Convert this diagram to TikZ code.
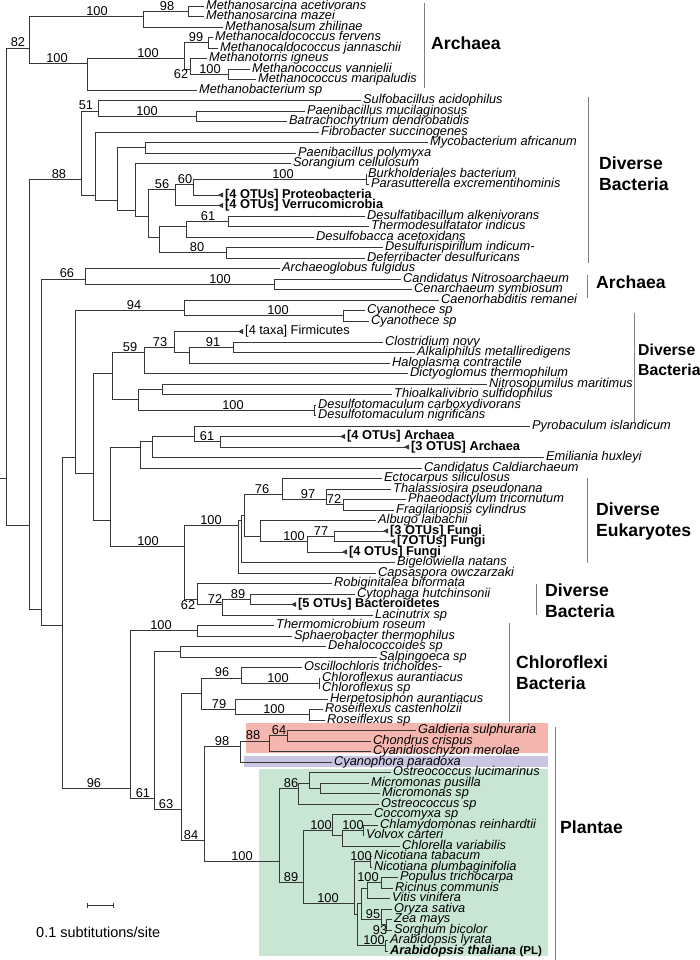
\documentclass[tikz,border=0pt]{standalone}
\usepackage{fontspec}
\setmainfont{Liberation Sans}
\usetikzlibrary{arrows.meta,positioning,calc}

\definecolor{rhodo}{RGB}{245,182,176}
\definecolor{glauco}{RGB}{201,197,226}
\definecolor{viridi}{RGB}{201,230,212}
\definecolor{treeline}{RGB}{55,55,55}

\newcommand{\leaffont}{\fontsize{12.8}{13}\selectfont\itshape}
\newcommand{\otufont}{\fontsize{12.8}{13}\selectfont\bfseries}
\newcommand{\numfont}{\fontsize{12.8}{13}\selectfont}
\newcommand{\grpfont}{\fontsize{17.6}{21}\selectfont\bfseries}
% internal node: name, x, first leaf, last leaf
\newcommand{\clade}[4]{\coordinate (#1) at (#2,{(#3+#4)/2});}

\begin{document}
\begin{tikzpicture}[x=1pt,y=-10.5pt,
  br/.style={draw=treeline,line width=0.8pt},
  otuarr/.style={-{Triangle[reversed,length=5pt,width=5pt]}},
  lf/.style={anchor=west,inner xsep=2pt,inner ysep=0pt,text height=8.5pt,text depth=2pt,font=\leaffont},
  otu/.style={lf,font=\otufont},
  bs/.style={anchor=south,inner sep=0.8pt,font=\numfont},
  bsb/.style={anchor=north,inner sep=0.8pt,font=\numfont},
  grp/.style={anchor=west,align=left,inner sep=0pt,font=\grpfont},
  gl/.style={draw=black!50,line width=0.8pt}]
\useasboundingbox (0,0.4286) rectangle (700,91.857);

% coloured boxes
\fill[rhodo] (246,69.3) rectangle (548,72.1);
\fill[glauco] (244,72.43) rectangle (548,73.5);
\fill[viridi] (259,73.67) rectangle (548,91.5);

% leaves
\node[lf] (aceti) at (204,1) {Methanosarcina acetivorans};
\node[lf] (mazei) at (204,2) {Methanosarcina mazei};
\node[lf] (zhili) at (223,3) {Methanosalsum zhilinae};
\node[lf] (ferv) at (213,4) {Methanocaldococcus fervens};
\node[lf] (jann) at (218,5) {Methanocaldococcus jannaschii};
\node[lf] (igne) at (207,6) {Methanotorris igneus};
\node[lf] (vann) at (250,7) {Methanococcus vannielii};
\node[lf] (mari) at (256,8) {Methanococcus maripaludis};
\node[lf] (mbac) at (197,9) {Methanobacterium sp};
\node[lf] (sulf) at (361,10) {Sulfobacillus acidophilus};
\node[lf] (pmuc) at (305,11) {Paenibacillus mucilaginosus};
\node[lf] (batr) at (287,12) {Batrachochytrium dendrobatidis};
\node[lf] (fibr) at (319,13) {Fibrobacter succinogenes};
\node[lf] (myco) at (428,14) {Mycobacterium africanum};
\node[lf] (ppol) at (296,15) {Paenibacillus polymyxa};
\node[lf] (sora) at (291,16) {Sorangium cellulosum};
\node[lf] (burk) at (366,17) {Burkholderiales bacterium};
\node[lf] (para) at (369,18) {Parasutterella excrementihominis};
\node[otu] (prot) at (223,19) {[4 OTUs] Proteobacteria};
\node[otu] (verr) at (223,20) {[4 OTUs] Verrucomicrobia};
\node[lf] (dalk) at (365,21) {Desulfatibacillum alkenivorans};
\node[lf] (tind) at (369,22) {Thermodesulfatator indicus};
\node[lf] (dace) at (314,23) {Desulfobacca acetoxidans};
\node[lf] (dind) at (383,24) {Desulfurispirillum indicum-};
\node[lf] (defe) at (365,25) {Deferribacter desulfuricans};
\node[lf] (afu) at (280,26) {Archaeoglobus fulgidus};
\node[lf] (cnit) at (401,27) {Candidatus Nitrosoarchaeum};
\node[lf] (csym) at (412,28) {Cenarchaeum symbiosum};
\node[lf] (crem) at (439,29) {Caenorhabditis remanei};
\node[lf] (cya1) at (365,30) {Cyanothece sp};
\node[lf] (cya2) at (369,31) {Cyanothece sp};
\node[lf,font=\numfont] (firm) at (243,32) {[4 taxa] Firmicutes};
\node[lf] (clos) at (383,33) {Clostridium novy};
\node[lf] (alka) at (415,34) {Alkaliphilus metalliredigens};
\node[lf] (halo) at (390,35) {Haloplasma contractile};
\node[lf] (dict) at (408,36) {Dictyoglomus thermophilum};
\node[lf] (nmar) at (487,37) {Nitrosopumilus maritimus};
\node[lf] (thio) at (392,38) {Thioalkalivibrio sulfidophilus};
\node[lf] (dcar) at (316,39) {Desulfotomaculum carboxydivorans};
\node[lf] (dnig) at (316,40) {Desulfotomaculum nigrificans};
\node[lf] (pyro) at (530,41) {Pyrobaculum islandicum};
\node[otu] (arc4) at (345,42) {[4 OTUs] Archaea};
\node[otu] (arc3) at (409,43) {[3 OTUS] Archaea};
\node[lf] (emil) at (544,44) {Emiliania huxleyi};
\node[lf] (cald) at (422,45) {Candidatus Caldiarchaeum};
\node[lf] (ecto) at (382,46) {Ectocarpus siliculosus};
\node[lf] (thal) at (391,47) {Thalassiosira pseudonana};
\node[lf] (phae) at (406,48) {Phaeodactylum tricornutum};
\node[lf] (frag) at (394,49) {Fragilariopsis cylindrus};
\node[lf] (albu) at (376,50) {Albugo laibachii};
\node[otu] (fun3) at (388,51) {[3 OTUs] Fungi};
\node[otu] (fun7) at (395,52) {[7OTUs] Fungi};
\node[otu] (fun4) at (347,53) {[4 OTUs] Fungi};
\node[lf] (bige) at (395,54) {Bigelowiella natans};
\node[lf] (caps) at (376,55) {Capsaspora owczarzaki};
\node[lf] (robi) at (332,56) {Robiginitalea biformata};
\node[lf] (cyto) at (355,57) {Cytophaga hutchinsonii};
\node[otu] (bact) at (296,58) {[5 OTUs] Bacteroidetes};
\node[lf] (laci) at (373,59) {Lacinutrix sp};
\node[lf] (tros) at (274,60) {Thermomicrobium roseum};
\node[lf] (sthe) at (292,61) {Sphaerobacter thermophilus};
\node[lf] (deha) at (326,62) {Dehalococcoides sp};
\node[lf] (salp) at (377,63) {Salpingoeca sp};
\node[lf] (osci) at (302,64) {Oscillochloris trichoides-};
\node[lf] (caur) at (320,65) {Chloroflexus aurantiacus};
\node[lf] (cfsp) at (320,66) {Chloroflexus sp};
\node[lf] (herp) at (328,67) {Herpetosiphon aurantiacus};
\node[lf] (rcas) at (323,68) {Roseiflexus castenholzii};
\node[lf] (rfsp) at (325,69) {Roseiflexus sp};
\node[lf] (gald) at (416,70) {Galdieria sulphuraria};
\node[lf] (chon) at (371,71) {Chondrus crispus};
\node[lf] (cyme) at (371,72) {Cyanidioschyzon merolae};
\node[lf] (cpar) at (332,73) {Cyanophora paradoxa};
\node[lf] (oluc) at (391,74) {Ostreococcus lucimarinus};
\node[lf] (mpus) at (369,75) {Micromonas pusilla};
\node[lf] (mosp) at (380,76) {Micromonas sp};
\node[lf] (ossp) at (379,77) {Ostreococcus sp};
\node[lf] (cocc) at (372,78) {Coccomyxa sp};
\node[lf] (chla) at (378,79) {Chlamydomonas reinhardtii};
\node[lf] (volv) at (364,80) {Volvox carteri};
\node[lf] (chlo) at (400,81) {Chlorella variabilis};
\node[lf] (ntab) at (372,82) {Nicotiana tabacum};
\node[lf] (nplu) at (372,83) {Nicotiana plumbaginifolia};
\node[lf] (popu) at (398,84) {Populus trichocarpa};
\node[lf] (rici) at (393,85) {Ricinus communis};
\node[lf] (viti) at (390,86) {Vitis vinifera};
\node[lf] (oryz) at (392,87) {Oryza sativa};
\node[lf] (zeam) at (392,88) {Zea mays};
\node[lf] (sorg) at (392,89) {Sorghum bicolor};
\node[lf] (alyr) at (388,90) {Arabidopsis lyrata};
\node[lf,font=\otufont] (atha) at (388,91) {\itshape Arabidopsis thaliana \upshape\fontsize{11.5}{12}\selectfont(PL)};

% internal nodes
\clade{root}{6.7}{1}{91}
\clade{n82}{29}{1}{9}
\clade{n100a}{143.5}{1}{3}
\clade{n98}{188}{1}{2}
\clade{n87}{87}{4}{9}
\clade{n184}{184}{4}{8}
\clade{n99}{208.5}{4}{5}
\clade{n62}{190.5}{6}{8}
\clade{n100b}{228}{7}{8}
\clade{nB}{29}{10}{91}
\clade{n88}{81}{10}{25}
\clade{n51}{98}{10}{12}
\clade{n100c}{196}{11}{12}
\clade{n95}{95}{13}{25}
\clade{n116}{117}{14}{25}
\clade{n146}{145}{14}{15}
\clade{n135}{135}{16}{25}
\clade{n148}{148}{17}{25}
\clade{n56}{175}{17}{20}
\clade{n60}{193}{17}{19}
\clade{n100d}{366}{17}{18}
\clade{n159}{159}{21}{25}
\clade{n186}{186}{21}{23}
\clade{n61}{228}{21}{22}
\clade{n80}{226}{24}{25}
\clade{nC}{41}{26}{91}
\clade{n66}{85}{26}{28}
\clade{n100e}{274}{27}{28}
\clade{nD}{62}{29}{91}
\clade{n75}{75}{29}{59}
\clade{n94}{184}{29}{31}
\clade{n100f}{343}{30}{31}
\clade{nE}{93}{32}{59}
\clade{n112}{112}{32}{40}
\clade{n59}{144}{32}{36}
\clade{n73}{174}{32}{35}
\clade{n189}{189}{33}{35}
\clade{n91}{233}{33}{34}
\clade{n138}{138}{37}{40}
\clade{n162}{162}{37}{38}
\clade{n100g}{314}{39}{40}
\clade{n110}{110}{41}{59}
\clade{n140}{140}{41}{45}
\clade{n152}{152}{41}{44}
\clade{n194}{194}{41}{43}
\clade{n61b}{220.6}{42}{43}
\clade{n184b}{184}{46}{59}
\clade{n238}{238}{46}{55}
\clade{n241}{241}{46}{54}
\clade{n244}{244}{46}{53}
\clade{n76}{282.5}{46}{49}
\clade{n97}{326.5}{47}{49}
\clade{n72}{343}{48}{49}
\clade{n260}{260}{50}{53}
\clade{n307}{307}{51}{53}
\clade{n77}{334}{51}{52}
\clade{n62c}{197}{56}{59}
\clade{n72b}{222}{57}{59}
\clade{n89}{250}{57}{58}
\clade{n96}{130}{60}{91}
\clade{n100h}{197}{60}{61}
\clade{n61c}{154}{62}{91}
\clade{n180}{180}{62}{63}
\clade{n63}{181}{64}{91}
\clade{n201}{201}{64}{69}
\clade{n96b}{241}{64}{66}
\clade{n100i}{319}{65}{66}
\clade{n79}{235}{67}{69}
\clade{n100j}{309}{68}{69}
\clade{n84}{204}{70}{91}
\clade{n98b}{240}{70}{73}
\clade{n88b}{269}{70}{72}
\clade{n64}{287}{70}{71}
\clade{nPL}{279}{74}{91}
\clade{n86}{298}{74}{77}
\clade{n309}{309}{74}{76}
\clade{n320}{320.6}{75}{76}
\clade{n89b}{303}{78}{91}
\clade{n332}{332}{78}{81}
\clade{n342}{342}{79}{81}
\clade{n100m}{363}{79}{80}
\clade{n354}{354}{82}{91}
\clade{n100n}{370}{82}{83}
\clade{n357}{357}{84}{91}
\clade{n362}{361}{84}{89}
\clade{n367}{367}{84}{86}
\clade{n100o}{381}{84}{85}
\clade{n95b}{381}{87}{89}
\clade{n93}{386}{88}{89}
\clade{n100p}{385}{90}{91}
\coordinate (rootin) at (0,46);

% branches
\draw[br] (rootin) -- (root);
\draw[br] (root) |- (n82) (root) |- (nB);
\draw[br] (n82) |- (n100a) (n82) |- (n87);
\draw[br] (n100a) |- (n98) (n100a) |- (zhili);
\draw[br] (n98) |- (aceti) (n98) |- (mazei);
\draw[br] (n87) |- (n184) (n87) |- (mbac);
\draw[br] (n184) |- (n99) (n184) |- (n62);
\draw[br] (n99) |- (ferv) (n99) |- (jann);
\draw[br] (n62) |- (igne) (n62) |- (n100b);
\draw[br] (n100b) |- (vann) (n100b) |- (mari);
\draw[br] (nB) |- (n88) (nB) |- (nC);
\draw[br] (n88) |- (n51) (n88) |- (n95);
\draw[br] (n51) |- (sulf) (n51) |- (n100c);
\draw[br] (n100c) |- (pmuc) (n100c) |- (batr);
\draw[br] (n95) |- (fibr) (n95) |- (n116);
\draw[br] (n116) |- (n146) (n116) |- (n135);
\draw[br] (n146) |- (myco) (n146) |- (ppol);
\draw[br] (n135) |- (sora) (n135) |- (n148);
\draw[br] (n148) |- (n56) (n148) |- (n159);
\draw[br] (n56) |- (n60);
\draw[br,otuarr] (n56) |- (verr);
\draw[br] (n60) |- (n100d);
\draw[br,otuarr] (n60) |- (prot);
\draw[br] (n100d) |- (burk) (n100d) |- (para);
\draw[br] (n159) |- (n186) (n159) |- (n80);
\draw[br] (n186) |- (n61) (n186) |- (dace);
\draw[br] (n61) |- (dalk) (n61) |- (tind);
\draw[br] (n80) |- (dind) (n80) |- (defe);
\draw[br] (nC) |- (n66) (nC) |- (nD);
\draw[br] (n66) |- (afu) (n66) |- (n100e);
\draw[br] (n100e) |- (cnit) (n100e) |- (csym);
\draw[br] (nD) |- (n75) (nD) |- (n96);
\draw[br] (n75) |- (n94) (n75) |- (nE);
\draw[br] (n94) |- (crem) (n94) |- (n100f);
\draw[br] (n100f) |- (cya1) (n100f) |- (cya2);
\draw[br] (nE) |- (n112) (nE) |- (n110);
\draw[br] (n112) |- (n59) (n112) |- (n138);
\draw[br] (n59) |- (n73) (n59) |- (dict);
\draw[br,otuarr] (n73) |- (firm);
\draw[br] (n73) |- (n189);
\draw[br] (n189) |- (n91) (n189) |- (halo);
\draw[br] (n91) |- (clos) (n91) |- (alka);
\draw[br] (n138) |- (n162) (n138) |- (n100g);
\draw[br] (n162) |- (nmar) (n162) |- (thio);
\draw[br] (n100g) |- (dcar) (n100g) |- (dnig);
\draw[br] (n110) |- (n140) (n110) |- (n184b);
\draw[br] (n140) |- (n152) (n140) |- (cald);
\draw[br] (n152) |- (n194) (n152) |- (emil);
\draw[br] (n194) |- (pyro) (n194) |- (n61b);
\draw[br,otuarr] (n61b) |- (arc4);
\draw[br,otuarr] (n61b) |- (arc3);
\draw[br] (n184b) |- (n238) (n184b) |- (n62c);
\draw[br] (n238) |- (n241) (n238) |- (caps);
\draw[br] (n241) |- (n244) (n241) |- (bige);
\draw[br] (n244) |- (n76) (n244) |- (n260);
\draw[br] (n76) |- (ecto) (n76) |- (n97);
\draw[br] (n97) |- (thal) (n97) |- (n72);
\draw[br] (n72) |- (phae) (n72) |- (frag);
\draw[br] (n260) |- (albu) (n260) |- (n307);
\draw[br] (n307) |- (n77);
\draw[br,otuarr] (n307) |- (fun4);
\draw[br,otuarr] (n77) |- (fun3);
\draw[br,otuarr] (n77) |- (fun7);
\draw[br] (n62c) |- (robi) (n62c) |- (n72b);
\draw[br] (n72b) |- (n89) (n72b) |- (laci);
\draw[br] (n89) |- (cyto);
\draw[br,otuarr] (n89) |- (bact);
\draw[br] (n96) |- (n100h) (n96) |- (n61c);
\draw[br] (n100h) |- (tros) (n100h) |- (sthe);
\draw[br] (n61c) |- (n180) (n61c) |- (n63);
\draw[br] (n180) |- (deha) (n180) |- (salp);
\draw[br] (n63) |- (n201) (n63) |- (n84);
\draw[br] (n201) |- (n96b) (n201) |- (n79);
\draw[br] (n96b) |- (osci) (n96b) |- (n100i);
\draw[br] (n100i) |- (caur) (n100i) |- (cfsp);
\draw[br] (n79) |- (herp) (n79) |- (n100j);
\draw[br] (n100j) |- (rcas) (n100j) |- (rfsp);
\draw[br] (n84) |- (n98b) (n84) |- (nPL);
\draw[br] (n98b) |- (n88b) (n98b) |- (cpar);
\draw[br] (n88b) |- (n64) (n88b) |- (cyme);
\draw[br] (n64) |- (gald) (n64) |- (chon);
\draw[br] (nPL) |- (n86) (nPL) |- (n89b);
\draw[br] (n86) |- (n309) (n86) |- (ossp);
\draw[br] (n309) |- (oluc) (n309) |- (n320);
\draw[br] (n320) |- (mpus) (n320) |- (mosp);
\draw[br] (n89b) |- (n332) (n89b) |- (n354);
\draw[br] (n332) |- (cocc) (n332) |- (n342);
\draw[br] (n342) |- (n100m) (n342) |- (chlo);
\draw[br] (n100m) |- (chla) (n100m) |- (volv);
\draw[br] (n354) |- (n100n) (n354) |- (n357);
\draw[br] (n100n) |- (ntab) (n100n) |- (nplu);
\draw[br] (n357) |- (n362) (n357) |- (n100p);
\draw[br] (n362) |- (n367) (n362) |- (n95b);
\draw[br] (n367) |- (n100o) (n367) |- (viti);
\draw[br] (n100o) |- (popu) (n100o) |- (rici);
\draw[br] (n95b) |- (oryz) (n95b) |- (n93);
\draw[br] (n93) |- (zeam) (n93) |- (sorg);
\draw[br] (n100p) |- (alyr) (n100p) |- (atha);

% bootstrap values
\node[bs] (b82) at (18,0 |- n82) {82};
\node[bs] (b100a) at (97,0 |- n100a) {100};
\node[bs] (b98) at (167,0 |- n98) {98};
\node[bs] (b87) at (57,0 |- n87) {100};
\node[bs] (b184) at (148,0 |- n184) {100};
\node[bs] (b99) at (196,0 |- n99) {99};
\node[bsb] (b62) at (181,0 |- n62) {62};
\node[bs] (b100b) at (210,0 |- n100b) {100};
\node[bs] (b88) at (59,0 |- n88) {88};
\node[bs] (b51) at (86,0 |- n51) {51};
\node[bs] (b100c) at (147,0 |- n100c) {100};
\node[bs] (b56) at (162,0 |- n56) {56};
\node[bs] (b60) at (185,0 |- n60) {60};
\node[bs] (b100d) at (283,0 |- n100d) {100};
\node[bs] (b61) at (208,0 |- n61) {61};
\node[bs] (b80) at (197,0 |- n80) {80};
\node[bs] (b66) at (67,0 |- n66) {66};
\node[bs] (b100e) at (220,0 |- n100e) {100};
\node[bs] (b94) at (134,0 |- n94) {94};
\node[bs] (b100f) at (278,0 |- n100f) {100};
\node[bs] (b59) at (130,0 |- n59) {59};
\node[bs] (b73) at (160,0 |- n73) {73};
\node[bs] (b91) at (213,0 |- n91) {91};
\node[bs] (b100g) at (233,0 |- n100g) {100};
\node[bs] (b61b) at (207,0 |- n61b) {61};
\node[bs] (b184b) at (148,0 |- n184b) {100};
\node[bs] (b238) at (211,0 |- n238) {100};
\node[bs] (b76) at (262,0 |- n76) {76};
\node[bs] (b97) at (308,0 |- n97) {97};
\node[bs] (b72) at (334,0 |- n72) {72};
\node[bs] (b307) at (294,0 |- n307) {100};
\node[bs] (b77) at (321,0 |- n77) {77};
\node[bsb] (b62c) at (188,0 |- n62c) {62};
\node[bs] (b72b) at (215,0 |- n72b) {72};
\node[bs] (b89) at (238,0 |- n89) {89};
\node[bs] (b96) at (94,0 |- n96) {96};
\node[bs] (b100h) at (161,0 |- n100h) {100};
\node[bs] (b61c) at (143,0 |- n61c) {61};
\node[bs] (b63) at (166,0 |- n63) {63};
\node[bs] (b96b) at (222,0 |- n96b) {96};
\node[bs] (b100i) at (278,0 |- n100i) {100};
\node[bs] (b79) at (219,0 |- n79) {79};
\node[bs] (b100j) at (274,0 |- n100j) {100};
\node[bs] (b84) at (191,0 |- n84) {84};
\node[bs] (b98b) at (222,0 |- n98b) {98};
\node[bs] (b88b) at (253,0 |- n88b) {88};
\node[bs] (b64) at (279,0 |- n64) {64};
\node[bs] (bPL) at (242,0 |- nPL) {100};
\node[bs] (b86) at (291,0 |- n86) {86};
\node[bs] (b89b) at (291,0 |- n89b) {89};
\node[bs] (b332) at (321,0 |- n332) {100};
\node[bs] (b100m) at (353,0 |- n100m) {100};
\node[bs] (b354) at (328,0 |- n354) {100};
\node[bs] (b100n) at (361,0 |- n100n) {100};
\node[bs] (b100o) at (368,0 |- n100o) {100};
\node[bs] (b95b) at (373,0 |- n95b) {95};
\node[bsb] (b93) at (380,0 |- n93) {93};
\node[bs] (b100p) at (374,0 |- n100p) {100};

% group brackets
\draw[gl] (424,0.71) -- (424,8.81);
\node[grp] (gArc1) at (431,4.52) {Archaea};
\draw[gl] (588,9.67) -- (588,25.5);
\node[grp] (gBac1) at (599,17) {Diverse\\Bacteria};
\draw[gl] (587,26.6) -- (587,28.8);
\node[grp] (gArc2) at (596,27.3) {Archaea};
\draw[gl] (634,30.2) -- (634,40.6);
\node[grp,font=\fontsize{15.8}{20}\selectfont\bfseries] (gBac2) at (638,34.7) {Diverse\\Bacteria};
\draw[gl] (587,45.95) -- (587,54);
\node[grp] (gEuk) at (596,50.1) {Diverse\\Eukaryotes};
\draw[gl] (536,56) -- (536,59);
\node[grp] (gBac3) at (545,57.6) {Diverse\\Bacteria};
\draw[gl] (509,59.8) -- (509,69.2);
\node[grp] (gChl) at (516,64.5) {Chloroflexi\\Bacteria};
\draw[gl] (555,69.7) -- (555,91.86);
\node[grp] (gPla) at (560,79.2) {Plantae};

% scale bar
\coordinate (sbl) at (87.4,86.7);
\coordinate (sbr) at (113.5,86.7);
\draw[br,{Bar[width=5pt]}-{Bar[width=5pt]}] (sbl) -- (sbr);
\node[anchor=west,inner sep=0pt,font=\fontsize{14.5}{15}\selectfont] (sbtxt) at (36,89.19) {0.1 subtitutions/site};
\end{tikzpicture}
\end{document}
